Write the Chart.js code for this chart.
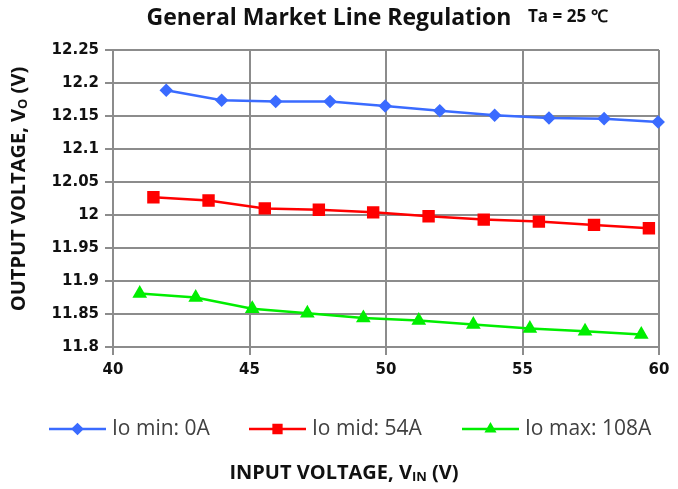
<!DOCTYPE html>
<html>
<head>
<meta charset="utf-8">
<script src="https://cdn.jsdelivr.net/npm/chart.js@4"></script>
<style>
    html, body { margin: 0; padding: 0; background: #ffffff; }
    #wrap { width: 678px; height: 489px; position: relative; }
</style>
</head>
<body>
<div id="wrap"><canvas id="chart" width="678" height="489"></canvas></div>
<script>
// Series data
const minLoadVin  = [41.95, 43.98, 45.96, 47.95, 49.97, 51.97, 53.98, 55.97, 57.99, 59.97];
const minLoadVout = [12.189, 12.174, 12.172, 12.172, 12.165, 12.158, 12.151, 12.147, 12.146, 12.141];

const midLoadVin  = [41.48, 43.5, 45.56, 47.54, 49.53, 51.56, 53.58, 55.6, 57.62, 59.63];
const midLoadVout = [12.027, 12.022, 12.010, 12.008, 12.004, 11.998, 11.993, 11.990, 11.985, 11.980];

const maxLoadVin  = [40.98, 43.03, 45.1, 47.12, 49.17, 51.2, 53.2, 55.27, 57.29, 59.35];
const maxLoadVout = [11.881, 11.875, 11.858, 11.851, 11.844, 11.840, 11.834, 11.828, 11.824, 11.819];

const seriesNames = ['Io min: 0A', 'Io mid: 54A', 'Io max: 108A'];

// Axis ticks
const xTicks = [40, 45, 50, 55, 60];
const yTicks = [11.8, 11.85, 11.9, 11.95, 12, 12.05, 12.1, 12.15, 12.2, 12.25];
const yTickLabels = ['11.8', '11.85', '11.9', '11.95', '12', '12.05', '12.1', '12.15', '12.2', '12.25'];

const TITLE_FONT = '"Open Sans", sans-serif';
const TICK_FONT = '"DejaVu Sans", sans-serif';

function toPoints(xs, ys) {
    return xs.map((x, i) => ({ x: x, y: ys[i] }));
}

// draws text with a subscript part: parts = [[text, isSub], ...]
function drawSubText(ctx, parts, x, y, size, weight) {
    const subSize = Math.round(size * 0.66);
    let total = 0;
    parts.forEach(p => {
        ctx.font = `${weight} ${p[1] ? subSize : size}px ${TITLE_FONT}`;
        total += ctx.measureText(p[0]).width;
    });
    let cx = x - total / 2;
    ctx.textAlign = 'left';
    ctx.textBaseline = 'alphabetic';
    parts.forEach(p => {
        ctx.font = `${weight} ${p[1] ? subSize : size}px ${TITLE_FONT}`;
        ctx.fillText(p[0], cx, p[1] ? y + size * 0.08 : y);
        cx += ctx.measureText(p[0]).width;
    });
}

const decorPlugin = {
    id: 'decor',
    afterDraw(chart) {
        const ctx = chart.ctx;
        ctx.save();
        ctx.fillStyle = '#111111';

        // main title
        ctx.font = `bold 23px ${TITLE_FONT}`;
        ctx.textAlign = 'center';
        ctx.textBaseline = 'middle';
        ctx.fillText('General Market Line Regulation', 329, 18);

        ctx.font = `bold 17px ${TITLE_FONT}`;
        ctx.textAlign = 'left';
        ctx.fillText('Ta = 25 \u2103', 528, 17);

        // x axis title
        drawSubText(ctx, [['INPUT VOLTAGE, V', false], ['IN', true], [' (V)', false]], 344, 479, 20, 'bold');

        // y axis title
        ctx.save();
        ctx.translate(25, 189);
        ctx.rotate(-Math.PI / 2);
        drawSubText(ctx, [['OUTPUT VOLTAGE, V', false], ['O', true], [' (V)', false]], 0, 0, 20, 'bold');
        ctx.restore();

        // legend: line with marker
        const legendX = [49, 249, 462];
        const legendY = 429;
        chart.data.datasets.forEach((ds, i) => {
            const x0 = legendX[i];
            ctx.strokeStyle = ds.borderColor;
            ctx.lineWidth = 2.5;
            ctx.beginPath();
            ctx.moveTo(x0, legendY);
            ctx.lineTo(x0 + 57, legendY);
            ctx.stroke();
            ctx.fillStyle = ds.backgroundColor;
            Chart.helpers.drawPoint(ctx, {
                pointStyle: ds.pointStyle,
                radius: ds.pointStyle === 'rect' ? 5.5 : 4.5,
                rotation: 0,
                borderWidth: 1
            }, x0 + 28.5, legendY);
            ctx.fillStyle = '#404040';
            ctx.font = `400 21px ${TITLE_FONT}`;
            ctx.textAlign = 'left';
            ctx.textBaseline = 'middle';
            ctx.fillText(ds.label, x0 + 63, legendY);
        });
        ctx.restore();
    }
};

const ctx = document.getElementById('chart').getContext('2d');

new Chart(ctx, {
    type: 'line',
    data: {
        datasets: [
            {
                label: seriesNames[0],
                data: toPoints(minLoadVin, minLoadVout),
                borderColor: '#3a6bff',
                backgroundColor: '#3a6bff',
                pointStyle: 'rectRot',
                pointRadius: 5,
                borderWidth: 2.5,
                clip: false
            },
            {
                label: seriesNames[1],
                data: toPoints(midLoadVin, midLoadVout),
                borderColor: '#ff0000',
                backgroundColor: '#ff0000',
                pointStyle: 'rect',
                pointRadius: 7,
                borderWidth: 2.5,
                clip: false
            },
            {
                label: seriesNames[2],
                data: toPoints(maxLoadVin, maxLoadVout),
                borderColor: '#00ee00',
                backgroundColor: '#00ee00',
                pointStyle: 'triangle',
                pointRadius: 6,
                borderWidth: 2.5,
                clip: false
            }
        ]
    },
    options: {
        responsive: false,
        animation: false,
        layout: {
            padding: { top: 50, right: 19, bottom: 106, left: 0 }
        },
        plugins: {
            legend: { display: false },
            title: { display: false },
            tooltip: { enabled: false }
        },
        scales: {
            x: {
                type: 'linear',
                min: 40,
                max: 60,
                afterBuildTicks: (scale) => { scale.ticks = xTicks.map(v => ({ value: v })); },
                afterFit: (scale) => { scale.height = 36; },
                grid: { color: '#8c8c8c', lineWidth: 2, tickLength: 8 },
                border: { color: '#8c8c8c', width: 2 },
                ticks: {
                    color: '#111111',
                    padding: 6,
                    maxRotation: 0,
                    font: { family: TICK_FONT, size: 15, weight: 'bold' }
                }
            },
            y: {
                type: 'linear',
                min: 11.8,
                max: 12.25,
                afterBuildTicks: (scale) => { scale.ticks = yTicks.map(v => ({ value: v })); },
                afterFit: (scale) => { scale.width = 113; },
                grid: { color: '#8c8c8c', lineWidth: 2, tickLength: 8 },
                border: { color: '#8c8c8c', width: 2 },
                ticks: {
                    color: '#111111',
                    padding: 6,
                    font: { family: TICK_FONT, size: 15, weight: 'bold' },
                    callback: function(value, index) {
                        return yTickLabels[index];
                    }
                }
            }
        }
    },
    plugins: [decorPlugin]
});
</script>
</body>
</html>
